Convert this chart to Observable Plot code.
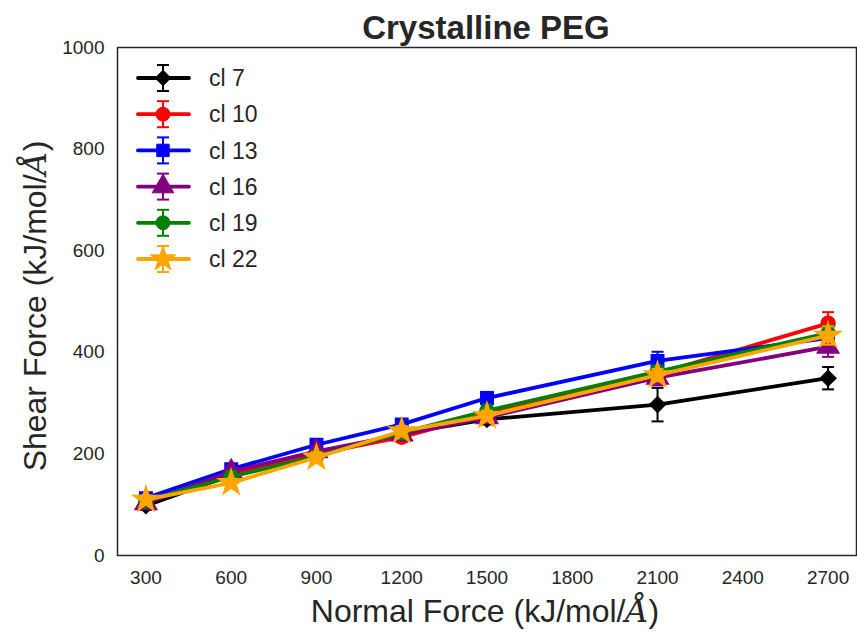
<!DOCTYPE html>
<html>
<head>
<meta charset="utf-8">
<script src="https://cdn.jsdelivr.net/npm/d3@7"></script>
<script src="https://cdn.jsdelivr.net/npm/@observablehq/plot@0.6"></script>
<style>
  html, body { margin: 0; padding: 0; background: #fff; }
  #chart { width: 857px; height: 634px; }
</style>
</head>
<body>
<div id="chart"></div>
<script>
// ---- data ----
const xValues = [300, 600, 900, 1200, 1500, 2100, 2700];
const xTicks = [300, 600, 900, 1200, 1500, 1800, 2100, 2400, 2700];
const yTicks = [0, 200, 400, 600, 800, 1000];

const seriesNames = ["cl 7", "cl 10", "cl 13", "cl 16", "cl 19", "cl 22"];
const seriesColors = ["black", "red", "blue", "purple", "green", "orange"];
const seriesSymbols = ["diamond2", "circle", "square", "triangle", "circle", "star"];

const cl7  = [98, 158, 200, 240, 268, 297, 349];
const cl10 = [105, 160, 200, 233, 278, 358, 457];
const cl13 = [113, 170, 218, 258, 310, 383, 428];
const cl16 = [103, 165, 205, 238, 272, 350, 411];
const cl19 = [108, 155, 195, 242, 285, 362, 438];
const cl22 = [110, 143, 193, 245, 275, 355, 433];

const cl7Err  = [8, 8, 10, 10, 10, 33, 22];
const cl10Err = [8, 8, 10, 10, 10, 15, 22];
const cl13Err = [8, 8, 8, 10, 12, 18, 12];
const cl16Err = [8, 8, 10, 10, 10, 15, 20];
const cl19Err = [8, 8, 10, 10, 10, 12, 15];
const cl22Err = [8, 8, 10, 10, 10, 12, 18];

const title = "Crystalline PEG";
const xLabel = "Normal Force (kJ/mol/";
const yLabel = "Shear Force (kJ/mol/";
const unitGlyph = "Å";

const allValues = [cl7, cl10, cl13, cl16, cl19, cl22];
const allErrs = [cl7Err, cl10Err, cl13Err, cl16Err, cl19Err, cl22Err];

// ---- chart ----
const capSymbol = {
  draw(context) { context.moveTo(-6, 0); context.lineTo(6, 0); }
};

const FONT = "'Liberation Sans', Arial, sans-serif";
const TXT = "#262626";

const marks = [];
seriesNames.forEach((name, i) => {
  const color = seriesColors[i];
  const rows = xValues.map((x, j) => ({x, y: allValues[i][j], e: allErrs[i][j]}));
  marks.push(Plot.ruleX(rows, {x: "x", y1: d => d.y - d.e, y2: d => d.y + d.e, stroke: color, strokeWidth: 2}));
  marks.push(Plot.dot(rows, {x: "x", y: d => d.y + d.e, symbol: capSymbol, stroke: color, strokeWidth: 2, fill: "none"}));
  marks.push(Plot.dot(rows, {x: "x", y: d => d.y - d.e, symbol: capSymbol, stroke: color, strokeWidth: 2, fill: "none"}));
  marks.push(Plot.line(rows, {x: "x", y: "y", stroke: color, strokeWidth: 3.8}));
  marks.push(Plot.dot(rows, {x: "x", y: "y", symbol: seriesSymbols[i], fill: color, stroke: color,
    r: seriesSymbols[i] === "star" || seriesSymbols[i] === "triangle" ? 8 : 7}));
});

const chart = Plot.plot({
  width: 857,
  height: 634,
  marginLeft: 117,
  marginRight: 1,
  marginTop: 47,
  marginBottom: 79,
  style: {fontFamily: FONT, background: "white", color: TXT},
  x: {domain: [200, 2800]},
  y: {domain: [0, 1000]},
  marks: [
    ...marks,
    Plot.axisX({ticks: xTicks, tickSize: 0, tickPadding: 15, fontSize: 19, label: null, tickFormat: d => String(d), fill: TXT}),
    Plot.axisY({ticks: yTicks, tickSize: 0, tickPadding: 13, fontSize: 19, label: null, tickFormat: d => String(d), fill: TXT}),
    Plot.frame({stroke: TXT, strokeWidth: 1.5, strokeOpacity: 1})
  ]
});

document.getElementById("chart").appendChild(chart);

// ---- title, axis labels, legend (added into the same svg) ----
const svg = d3.select(chart);

svg.append("text")
  .attr("x", 486).attr("y", 39)
  .attr("text-anchor", "middle")
  .attr("font-family", FONT).attr("font-weight", "bold").attr("font-size", 33)
  .attr("fill", TXT)
  .text(title);

const SERIF = "'DejaVu Serif', 'Liberation Serif', serif";

const xl = svg.append("text")
  .attr("x", 485).attr("y", 622)
  .attr("text-anchor", "middle")
  .attr("font-family", FONT).attr("font-size", 32).attr("fill", TXT);
xl.append("tspan").text(xLabel);
xl.append("tspan").attr("font-family", SERIF).attr("font-style", "italic").text(unitGlyph);
xl.append("tspan").text(")");

const yl = svg.append("text")
  .attr("transform", "translate(46,306) rotate(-90)")
  .attr("text-anchor", "middle")
  .attr("font-family", FONT).attr("font-size", 32).attr("fill", TXT);
yl.append("tspan").text(yLabel);
yl.append("tspan").attr("font-family", SERIF).attr("font-style", "italic").text(unitGlyph);
yl.append("tspan").text(")");

const symbolMap = {
  diamond2: d3.symbolDiamond2, circle: d3.symbolCircle, square: d3.symbolSquare,
  triangle: d3.symbolTriangle, star: d3.symbolStar
};
const legend = svg.append("g").attr("text-anchor", "start");
seriesNames.forEach((name, i) => {
  const cy = 78 + i * 36.2;
  const color = seriesColors[i];
  const g = legend.append("g").attr("transform", `translate(0,${cy})`);
  g.append("line").attr("x1", 138).attr("x2", 189).attr("y1", 0).attr("y2", 0)
    .attr("stroke", color).attr("stroke-width", 3.8).attr("stroke-linecap", "round");
  g.append("line").attr("x1", 163).attr("x2", 163).attr("y1", -13).attr("y2", 13)
    .attr("stroke", color).attr("stroke-width", 2);
  g.append("line").attr("x1", 157).attr("x2", 169).attr("y1", -13).attr("y2", -13)
    .attr("stroke", color).attr("stroke-width", 2);
  g.append("line").attr("x1", 157).attr("x2", 169).attr("y1", 13).attr("y2", 13)
    .attr("stroke", color).attr("stroke-width", 2);
  const s = seriesSymbols[i];
  const r = (s === "star" || s === "triangle") ? 8 : 7;
  g.append("path").attr("transform", "translate(163,0)")
    .attr("d", d3.symbol(symbolMap[s], Math.PI * r * r)())
    .attr("fill", color).attr("stroke", color);
  g.append("text").attr("x", 209).attr("y", 0).attr("dy", "0.36em")
    .attr("text-anchor", "start")
    .attr("font-family", FONT).attr("font-size", 23).attr("fill", TXT)
    .text(name);
});
</script>
</body>
</html>
